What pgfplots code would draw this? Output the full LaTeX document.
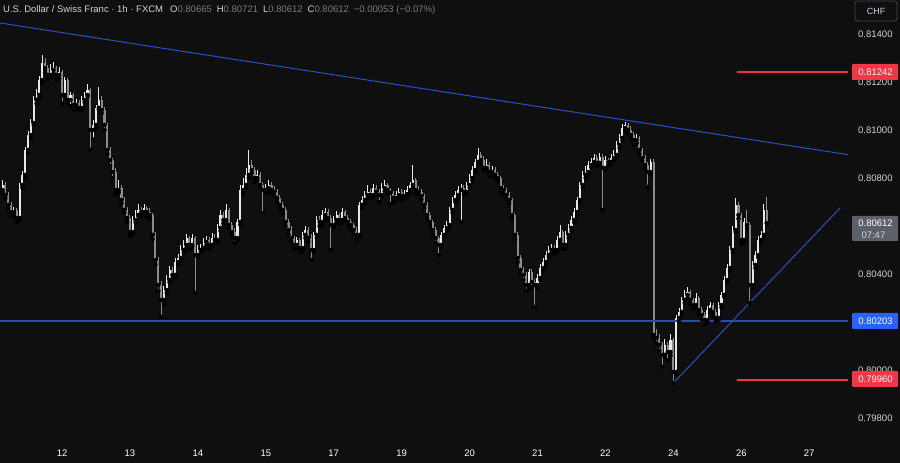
\documentclass[border=0pt]{standalone}
\usepackage{pgfplots}
\pgfplotsset{compat=1.18}
\usepackage{pgfplotstable}
\usepackage{fontspec}
\setmainfont{Liberation Sans}
\definecolor{bg}{HTML}{0F0F0F}
\definecolor{upc}{HTML}{E8E8E8}
\definecolor{dnc}{HTML}{8C8C8C}
\definecolor{tl}{HTML}{2D4FC4}
\definecolor{tlh}{HTML}{2A48B8}
\definecolor{rd}{HTML}{F23645}
\definecolor{bl}{HTML}{2962FF}
\definecolor{txt}{HTML}{D1D4DC}
\definecolor{vg}{HTML}{787B86}
\definecolor{gbox}{HTML}{5D606B}
\definecolor{chfb}{HTML}{434651}

\pgfplotstableread{
o h l c
0.80750 0.80790 0.80740 0.80771
0.80771 0.80785 0.80715 0.80729
0.80729 0.80740 0.80675 0.80688
0.80688 0.80700 0.80645 0.80658
0.80658 0.80680 0.80640 0.80667
0.80667 0.80675 0.80617 0.80633
0.80633 0.80780 0.80625 0.80771
0.80771 0.80830 0.80760 0.80813
0.80813 0.80930 0.80800 0.80917
0.80917 0.80995 0.80905 0.80979
0.80979 0.81045 0.80965 0.81029
0.81029 0.81140 0.81020 0.81125
0.81125 0.81170 0.81110 0.81146
0.81146 0.81225 0.81135 0.81208
0.81208 0.81312 0.81195 0.81279
0.81279 0.81300 0.81240 0.81258
0.81258 0.81270 0.81215 0.81229
0.81229 0.81275 0.81220 0.81250
0.81250 0.81285 0.81235 0.81258
0.81258 0.81265 0.81210 0.81229
0.81229 0.81262 0.81215 0.81242
0.81242 0.81250 0.81110 0.81146
0.81146 0.81220 0.81135 0.81208
0.81208 0.81215 0.81110 0.81125
0.81125 0.81160 0.81100 0.81146
0.81146 0.81155 0.81085 0.81104
0.81104 0.81130 0.81090 0.81113
0.81113 0.81125 0.81080 0.81092
0.81092 0.81140 0.81085 0.81125
0.81125 0.81160 0.81115 0.81146
0.81146 0.81190 0.81140 0.81167
0.81167 0.81175 0.80917 0.81000
0.81000 0.81040 0.80960 0.81021
0.81021 0.81105 0.81010 0.81092
0.81092 0.81179 0.81085 0.81125
0.81125 0.81140 0.81070 0.81083
0.81083 0.81095 0.81000 0.81021
0.81021 0.81030 0.80900 0.80917
0.80917 0.80930 0.80850 0.80875
0.80875 0.80885 0.80800 0.80825
0.80825 0.80840 0.80735 0.80750
0.80750 0.80790 0.80740 0.80758
0.80758 0.80770 0.80695 0.80708
0.80708 0.80720 0.80655 0.80667
0.80667 0.80680 0.80615 0.80633
0.80633 0.80645 0.80560 0.80575
0.80575 0.80640 0.80565 0.80625
0.80625 0.80665 0.80615 0.80646
0.80646 0.80690 0.80640 0.80667
0.80667 0.80680 0.80645 0.80658
0.80658 0.80690 0.80650 0.80675
0.80675 0.80685 0.80640 0.80658
0.80658 0.80675 0.80630 0.80646
0.80646 0.80655 0.80545 0.80563
0.80563 0.80575 0.80440 0.80458
0.80458 0.80470 0.80330 0.80354
0.80354 0.80370 0.80221 0.80292
0.80292 0.80350 0.80275 0.80333
0.80333 0.80395 0.80320 0.80375
0.80375 0.80435 0.80365 0.80417
0.80417 0.80430 0.80380 0.80396
0.80396 0.80465 0.80385 0.80450
0.80450 0.80485 0.80440 0.80467
0.80467 0.80520 0.80455 0.80500
0.80500 0.80540 0.80490 0.80521
0.80521 0.80565 0.80510 0.80550
0.80550 0.80560 0.80505 0.80521
0.80521 0.80567 0.80515 0.80550
0.80550 0.80560 0.80321 0.80479
0.80479 0.80520 0.80470 0.80500
0.80500 0.80525 0.80490 0.80508
0.80508 0.80550 0.80500 0.80533
0.80533 0.80560 0.80520 0.80542
0.80542 0.80555 0.80505 0.80521
0.80521 0.80570 0.80515 0.80550
0.80550 0.80565 0.80530 0.80542
0.80542 0.80610 0.80535 0.80592
0.80592 0.80665 0.80580 0.80646
0.80646 0.80660 0.80610 0.80625
0.80625 0.80690 0.80615 0.80667
0.80667 0.80675 0.80590 0.80604
0.80604 0.80615 0.80560 0.80575
0.80575 0.80590 0.80530 0.80550
0.80550 0.80630 0.80540 0.80617
0.80617 0.80770 0.80605 0.80750
0.80750 0.80800 0.80735 0.80771
0.80771 0.80840 0.80760 0.80813
0.80813 0.80917 0.80800 0.80854
0.80854 0.80875 0.80820 0.80833
0.80833 0.80845 0.80785 0.80800
0.80800 0.80835 0.80790 0.80813
0.80813 0.80825 0.80760 0.80771
0.80771 0.80785 0.80654 0.80750
0.80750 0.80775 0.80740 0.80758
0.80758 0.80790 0.80745 0.80771
0.80771 0.80785 0.80735 0.80750
0.80750 0.80765 0.80725 0.80742
0.80742 0.80755 0.80700 0.80717
0.80717 0.80730 0.80675 0.80688
0.80688 0.80700 0.80650 0.80667
0.80667 0.80680 0.80600 0.80617
0.80617 0.80630 0.80565 0.80583
0.80583 0.80600 0.80535 0.80550
0.80550 0.80560 0.80505 0.80521
0.80521 0.80555 0.80510 0.80542
0.80542 0.80550 0.80490 0.80508
0.80508 0.80575 0.80495 0.80563
0.80563 0.80600 0.80550 0.80583
0.80583 0.80595 0.80535 0.80550
0.80550 0.80565 0.80458 0.80500
0.80500 0.80575 0.80490 0.80563
0.80563 0.80640 0.80550 0.80625
0.80625 0.80640 0.80600 0.80617
0.80617 0.80665 0.80605 0.80646
0.80646 0.80675 0.80635 0.80658
0.80658 0.80670 0.80620 0.80633
0.80633 0.80645 0.80500 0.80604
0.80604 0.80640 0.80595 0.80625
0.80625 0.80662 0.80615 0.80646
0.80646 0.80655 0.80610 0.80625
0.80625 0.80675 0.80615 0.80658
0.80658 0.80665 0.80620 0.80633
0.80633 0.80645 0.80600 0.80617
0.80617 0.80630 0.80585 0.80604
0.80604 0.80612 0.80565 0.80583
0.80583 0.80595 0.80545 0.80563
0.80563 0.80700 0.80555 0.80688
0.80688 0.80725 0.80675 0.80708
0.80708 0.80745 0.80695 0.80729
0.80729 0.80770 0.80720 0.80742
0.80742 0.80755 0.80715 0.80729
0.80729 0.80775 0.80720 0.80758
0.80758 0.80770 0.80730 0.80742
0.80742 0.80755 0.80700 0.80729
0.80729 0.80780 0.80720 0.80758
0.80758 0.80790 0.80745 0.80771
0.80771 0.80780 0.80735 0.80750
0.80750 0.80760 0.80690 0.80738
0.80738 0.80745 0.80700 0.80717
0.80717 0.80745 0.80705 0.80729
0.80729 0.80760 0.80720 0.80742
0.80742 0.80755 0.80710 0.80725
0.80725 0.80750 0.80715 0.80733
0.80733 0.80765 0.80725 0.80750
0.80750 0.80785 0.80740 0.80771
0.80771 0.80854 0.80760 0.80792
0.80792 0.80800 0.80735 0.80750
0.80750 0.80765 0.80730 0.80742
0.80742 0.80755 0.80710 0.80725
0.80725 0.80735 0.80675 0.80688
0.80688 0.80700 0.80630 0.80646
0.80646 0.80660 0.80600 0.80617
0.80617 0.80625 0.80565 0.80583
0.80583 0.80595 0.80530 0.80550
0.80550 0.80560 0.80479 0.80521
0.80521 0.80575 0.80510 0.80563
0.80563 0.80605 0.80550 0.80592
0.80592 0.80620 0.80580 0.80604
0.80604 0.80680 0.80595 0.80667
0.80667 0.80720 0.80655 0.80708
0.80708 0.80745 0.80700 0.80729
0.80729 0.80765 0.80720 0.80750
0.80750 0.80775 0.80617 0.80758
0.80758 0.80770 0.80730 0.80742
0.80742 0.80785 0.80735 0.80771
0.80771 0.80815 0.80760 0.80800
0.80800 0.80850 0.80790 0.80833
0.80833 0.80880 0.80825 0.80867
0.80867 0.80925 0.80855 0.80896
0.80896 0.80910 0.80860 0.80875
0.80875 0.80890 0.80830 0.80842
0.80842 0.80880 0.80835 0.80854
0.80854 0.80865 0.80810 0.80825
0.80825 0.80850 0.80815 0.80833
0.80833 0.80845 0.80800 0.80813
0.80813 0.80825 0.80785 0.80800
0.80800 0.80810 0.80745 0.80758
0.80758 0.80770 0.80735 0.80750
0.80750 0.80760 0.80715 0.80729
0.80729 0.80740 0.80695 0.80708
0.80708 0.80715 0.80630 0.80646
0.80646 0.80655 0.80545 0.80563
0.80563 0.80575 0.80450 0.80467
0.80467 0.80480 0.80400 0.80417
0.80417 0.80430 0.80375 0.80396
0.80396 0.80410 0.80330 0.80354
0.80354 0.80420 0.80340 0.80408
0.80408 0.80420 0.80345 0.80367
0.80367 0.80380 0.80263 0.80354
0.80354 0.80400 0.80345 0.80383
0.80383 0.80440 0.80375 0.80425
0.80425 0.80465 0.80415 0.80450
0.80450 0.80495 0.80440 0.80479
0.80479 0.80515 0.80470 0.80500
0.80500 0.80525 0.80490 0.80508
0.80508 0.80520 0.80485 0.80500
0.80500 0.80560 0.80490 0.80542
0.80542 0.80605 0.80530 0.80575
0.80575 0.80585 0.80505 0.80521
0.80521 0.80580 0.80510 0.80563
0.80563 0.80610 0.80550 0.80592
0.80592 0.80640 0.80580 0.80625
0.80625 0.80675 0.80615 0.80658
0.80658 0.80720 0.80645 0.80708
0.80708 0.80785 0.80700 0.80771
0.80771 0.80830 0.80760 0.80813
0.80813 0.80850 0.80800 0.80825
0.80825 0.80870 0.80815 0.80854
0.80854 0.80885 0.80845 0.80867
0.80867 0.80900 0.80860 0.80883
0.80883 0.80895 0.80850 0.80863
0.80863 0.80905 0.80855 0.80888
0.80888 0.80900 0.80667 0.80842
0.80842 0.80890 0.80835 0.80875
0.80875 0.80885 0.80855 0.80867
0.80867 0.80900 0.80860 0.80883
0.80883 0.80915 0.80875 0.80896
0.80896 0.80955 0.80885 0.80938
0.80938 0.80985 0.80925 0.80967
0.80967 0.81025 0.80955 0.81008
0.81008 0.81033 0.80995 0.81021
0.81021 0.81030 0.80985 0.81000
0.81000 0.81015 0.80965 0.80979
0.80979 0.80990 0.80940 0.80958
0.80958 0.80985 0.80945 0.80967
0.80967 0.80975 0.80900 0.80917
0.80917 0.80925 0.80870 0.80883
0.80883 0.80895 0.80840 0.80854
0.80854 0.80865 0.80763 0.80825
0.80825 0.80880 0.80815 0.80867
0.80867 0.80880 0.80130 0.80146
0.80146 0.80170 0.80110 0.80133
0.80133 0.80150 0.80080 0.80104
0.80104 0.80115 0.80013 0.80063
0.80063 0.80130 0.80050 0.80104
0.80104 0.80115 0.80040 0.80075
0.80075 0.80150 0.80060 0.80125
0.80125 0.80135 0.79946 0.79992
0.79992 0.80230 0.79985 0.80217
0.80217 0.80260 0.80205 0.80242
0.80242 0.80305 0.80230 0.80292
0.80292 0.80335 0.80280 0.80313
0.80313 0.80345 0.80300 0.80325
0.80325 0.80335 0.80275 0.80292
0.80292 0.80300 0.80255 0.80271
0.80271 0.80320 0.80262 0.80300
0.80300 0.80310 0.80235 0.80250
0.80250 0.80262 0.80210 0.80229
0.80229 0.80240 0.80190 0.80208
0.80208 0.80265 0.80200 0.80250
0.80250 0.80285 0.80240 0.80271
0.80271 0.80280 0.80225 0.80242
0.80242 0.80255 0.80205 0.80217
0.80217 0.80285 0.80210 0.80271
0.80271 0.80325 0.80260 0.80313
0.80313 0.80390 0.80305 0.80375
0.80375 0.80440 0.80365 0.80425
0.80425 0.80515 0.80415 0.80500
0.80500 0.80600 0.80490 0.80583
0.80583 0.80717 0.80575 0.80688
0.80688 0.80700 0.80630 0.80646
0.80646 0.80655 0.80525 0.80542
0.80542 0.80635 0.80530 0.80617
0.80617 0.80667 0.80590 0.80604
0.80604 0.80615 0.80279 0.80354
0.80354 0.80455 0.80340 0.80438
0.80438 0.80495 0.80425 0.80479
0.80479 0.80560 0.80470 0.80542
0.80542 0.80580 0.80530 0.80563
0.80563 0.80690 0.80555 0.80665
0.80665 0.80721 0.80612 0.80612
}\candles

\begin{document}
\begin{tikzpicture}
\path[use as bounding box, fill=bg] (0,0) rectangle (900pt,463pt);
\begin{axis}[
  at={(0pt,25pt)}, anchor=south west,
  scale only axis, width=848pt, height=438pt,
  xmin=-0.92, xmax=298.7, ymin=0.797167, ymax=0.815417,
  axis line style={draw=none}, major tick length=0pt,
  xtick={21,45,69,93,117,141,165,189,213,237,261,285},
  xticklabels={12,13,14,15,17,19,20,21,22,24,26,27},
  ytick={0.798,0.800,0.804,0.808,0.810,0.812,0.814},
  yticklabels={0.79800,0.80000,0.80400,0.80800,0.81000,0.81200,0.81400},
  yticklabel pos=right,
  tick label style={font=\fontsize{9.5}{11}\selectfont, text=txt},
  yticklabel style={anchor=west, inner sep=0pt, xshift=10pt},
  xticklabel style={anchor=base, inner sep=0pt, yshift=-19pt, text=white},
  clip=true,
]
% wicks
\addplot[only marks, mark=none, forget plot,
  restrict expr to domain={\thisrow{c}-\thisrow{o}}{0:1},
  error bars/.cd, y dir=plus, y explicit, error mark=none,
  error bar style={line width=1pt, draw=upc}]
  table[x expr=\coordindex, y=l, y error expr=\thisrow{h}-\thisrow{l}] {\candles};
\addplot[only marks, mark=none, forget plot,
  restrict expr to domain={\thisrow{c}-\thisrow{o}}{-1:-0.000001},
  error bars/.cd, y dir=plus, y explicit, error mark=none,
  error bar style={line width=1pt, draw=dnc}]
  table[x expr=\coordindex, y=l, y error expr=\thisrow{h}-\thisrow{l}] {\candles};
% bodies
\addplot[only marks, mark=none, forget plot,
  restrict expr to domain={\thisrow{c}-\thisrow{o}}{0:1},
  error bars/.cd, y dir=plus, y explicit, error mark=none,
  error bar style={line width=2.1pt, draw=upc}]
  table[x expr=\coordindex, y=o, y error expr=\thisrow{c}-\thisrow{o}] {\candles};
\addplot[only marks, mark=none, forget plot,
  restrict expr to domain={\thisrow{c}-\thisrow{o}}{-1:-0.000001},
  error bars/.cd, y dir=plus, y explicit, error mark=none,
  error bar style={line width=2.1pt, draw=dnc}]
  table[x expr=\coordindex, y=c, y error expr=\thisrow{o}-\thisrow{c}] {\candles};
% drawings
\addplot[draw=tl, line width=1pt] coordinates {(-0.92,0.81446) (299.4,0.80896)};
\addplot[draw=tlh, line width=1.6pt] coordinates {(-0.92,0.80203) (298.7,0.80203)};
\addplot[draw=tl, line width=1pt] coordinates {(237,0.79946) (295.9,0.80675)};
\addplot[draw=rd, line width=1.4pt] coordinates {(259.5,0.81242) (298.7,0.81242)};
\addplot[draw=rd, line width=2pt] coordinates {(259.5,0.79960) (298.7,0.79960)};
\end{axis}
% header
\node[anchor=base west, inner sep=0pt, font=\fontsize{9.5}{11}\selectfont] at (3pt,450pt)
 {\textcolor{txt}{U.S. Dollar / Swiss Franc · 1h · FXCM}\hspace{7pt}\textcolor{txt}{O}\textcolor{vg}{0.80665}\hspace{5pt}\textcolor{txt}{H}\textcolor{vg}{0.80721}\hspace{5pt}\textcolor{txt}{L}\textcolor{vg}{0.80612}\hspace{5pt}\textcolor{txt}{C}\textcolor{vg}{0.80612}\hspace{5pt}\textcolor{vg}{−0.00053 (−0.07\%)}};
% currency box
\draw[chfb, line width=0.8pt, rounded corners=3pt] (855pt,442pt) rectangle (897pt,462pt);
\node[text=txt, font=\fontsize{9}{11}\selectfont] at (876pt,452pt) {CHF};
% price labels
\fill[rd, rounded corners=1pt] (852pt,383pt) rectangle (898pt,399pt);
\node[text=white, font=\fontsize{9.5}{11}\selectfont] at (875.5pt,391pt) {0.81242};
\fill[gbox, rounded corners=1pt] (852pt,222pt) rectangle (898pt,247pt);
\node[text=white, font=\fontsize{9.5}{11}\selectfont] at (875.5pt,239.5pt) {0.80612};
\node[text=txt, font=\fontsize{9.5}{11}\selectfont, anchor=west] at (858pt,228pt) {07:47};
\fill[bl, rounded corners=1pt] (852pt,134pt) rectangle (898pt,150pt);
\node[text=white, font=\fontsize{9.5}{11}\selectfont] at (875.5pt,142pt) {0.80203};
\fill[rd, rounded corners=1pt] (852pt,76pt) rectangle (898pt,92pt);
\node[text=white, font=\fontsize{9.5}{11}\selectfont] at (875.5pt,84pt) {0.79960};
\end{tikzpicture}
\end{document}
